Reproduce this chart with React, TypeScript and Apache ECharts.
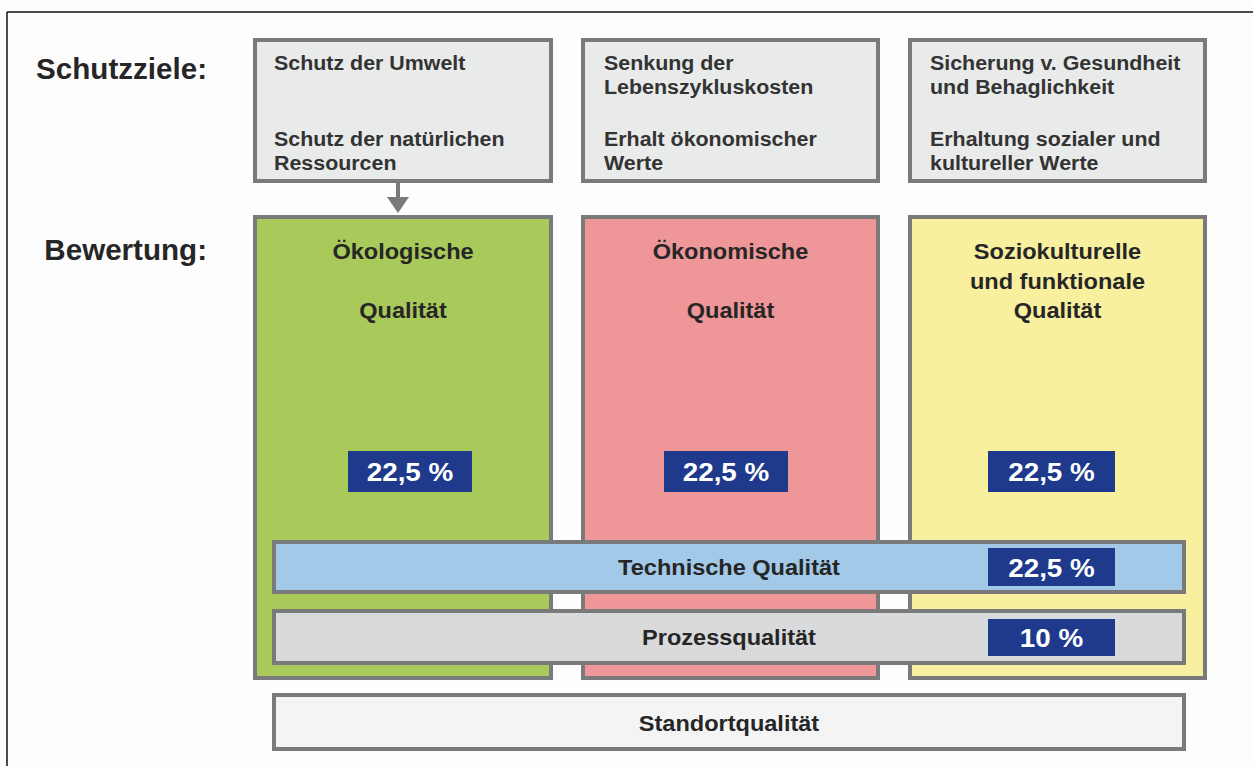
import React, { useEffect, useRef } from "react";
import * as echarts from "echarts";

// ---- content ----
const rowLabels = ["Schutzziele:", "Bewertung:"];
const goalTexts: string[][] = [
  ["Schutz der Umwelt", "", "Schutz der natürlichen", "Ressourcen"],
  ["Senkung der", "Lebenszykluskosten", "Erhalt ökonomischer", "Werte"],
  ["Sicherung v. Gesundheit", "und Behaglichkeit", "Erhaltung sozialer und", "kultureller Werte"],
];
const pillarTitles: string[][] = [
  ["Ökologische", "", "Qualität"],
  ["Ökonomische", "", "Qualität"],
  ["Soziokulturelle", "und funktionale", "Qualität"],
];
const pillarShares = [22.5, 22.5, 22.5];
const crossTitles = ["Technische Qualität", "Prozessqualität"];
const crossShares = [22.5, 10];
const baseTitle = "Standortqualität";

// ---- styling / layout ----
const FONT = '"Liberation Sans", Arial, Helvetica, sans-serif';
const BORDER = "#7a7a7a";
const pillarColors = ["#a9c95a", "#ef9698", "#f8ef9f"];
const crossColors = ["#a2c9e8", "#d9dadb"];
const baseColor = "#f4f4f4";
const goalColor = "#e9eaea";
const pctColor = "#1f3a8d";
const colX: [number, number][] = [
  [253, 553],
  [581, 880],
  [908, 1207],
];
const goalTextX = [274, 604, 930];
const goalSlotsY = [63, 87, 139, 163];
const titleSlotsY = [251, 281, 310];
const pctX: [number, number][] = [
  [348, 472],
  [664, 788],
  [988, 1115],
];
const crossY: [number, number][] = [
  [540, 594],
  [609, 665],
];
const crossPctY: [number, number][] = [
  [548, 586],
  [619, 656],
];
const SX = 1.07;

function fmt(v: number) {
  return String(v).replace(".", ",") + " %";
}

function box(x0: number, y0: number, x1: number, y1: number, fill: string, lw = 4): any {
  return {
    type: "rect",
    shape: { x: x0 + lw / 2, y: y0 + lw / 2, width: x1 - x0 - lw, height: y1 - y0 - lw },
    style: { fill, stroke: lw ? BORDER : "none", lineWidth: lw },
  };
}

function txt(
  text: string,
  x: number,
  y: number,
  size: number,
  align: string,
  fill = "#262626",
  sx = SX
): any {
  return {
    type: "text",
    x,
    y,
    scaleX: sx,
    style: {
      text,
      fill,
      font: `bold ${size}px ${FONT}`,
      textAlign: align,
      textVerticalAlign: "middle",
    },
  };
}

export default function App() {
  const ref = useRef<HTMLDivElement>(null);
  useEffect(() => {
    if (!ref.current) return;
    const chart = echarts.init(ref.current, undefined, { renderer: "svg" });
    const els: any[] = [];
    // frame
    els.push({ type: "line", shape: { x1: 7, y1: 12, x2: 1253, y2: 12 }, style: { stroke: "#111", lineWidth: 1.5 } });
    els.push({ type: "line", shape: { x1: 7, y1: 12, x2: 7, y2: 766 }, style: { stroke: "#111", lineWidth: 1.5 } });
    // row labels
    els.push(txt(rowLabels[0], 207, 69, 29, "right", "#262626", 1.02));
    els.push(txt(rowLabels[1], 207, 250, 29, "right", "#262626", 1.02));
    // goal boxes
    goalTexts.forEach((lines, i) => {
      els.push(box(colX[i][0], 38, colX[i][1], 183, goalColor));
      lines.forEach((l, j) => {
        if (l) els.push(txt(l, goalTextX[i], goalSlotsY[j], 20, "left", "#333"));
      });
    });
    // arrow
    els.push({ type: "line", shape: { x1: 398, y1: 183, x2: 398, y2: 199 }, style: { stroke: BORDER, lineWidth: 4 } });
    els.push({ type: "polygon", shape: { points: [[387, 197], [409, 197], [398, 213]] }, style: { fill: BORDER } });
    // pillars
    pillarTitles.forEach((lines, i) => {
      els.push(box(colX[i][0], 215, colX[i][1], 680, pillarColors[i]));
      const cx = (colX[i][0] + colX[i][1]) / 2;
      lines.forEach((l, j) => {
        if (l) els.push(txt(l, cx, titleSlotsY[j], 22, "center"));
      });
      els.push(box(pctX[i][0], 451, pctX[i][1], 492, pctColor, 0));
      els.push(txt(fmt(pillarShares[i]), (pctX[i][0] + pctX[i][1]) / 2, 472, 26, "center", "#ffffff"));
    });
    // cross-cutting bars
    crossTitles.forEach((t, i) => {
      els.push(box(272, crossY[i][0], 1186, crossY[i][1], crossColors[i]));
      els.push(txt(t, 729, (crossY[i][0] + crossY[i][1]) / 2, 22, "center"));
      els.push(box(pctX[2][0], crossPctY[i][0], pctX[2][1], crossPctY[i][1], pctColor, 0));
      els.push(
        txt(fmt(crossShares[i]), (pctX[2][0] + pctX[2][1]) / 2, (crossPctY[i][0] + crossPctY[i][1]) / 2 + 1, 26, "center", "#ffffff")
      );
    });
    // base
    els.push(box(272, 693, 1186, 751, baseColor));
    els.push(txt(baseTitle, 729, 723, 22, "center"));

    chart.setOption({
      animation: false,
      backgroundColor: "#fdfdfd",
      graphic: { elements: els },
    });
    return () => chart.dispose();
  }, []);
  return (
    <div
      ref={ref}
      style={{ position: "fixed", left: 0, top: 0, width: 1253, height: 766 }}
    />
  );
}
